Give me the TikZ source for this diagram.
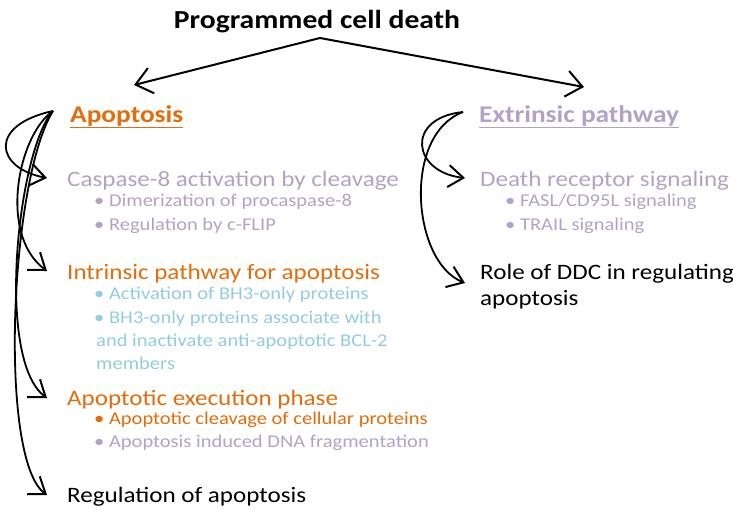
\documentclass[tikz,border=0pt]{standalone}
\usepackage{fontspec}
\setmainfont[FakeStretch=1.14]{Carlito}
\usetikzlibrary{arrows.meta}
\definecolor{aorange}{HTML}{E46C0A}
\definecolor{apurple}{HTML}{B3A2C7}
\definecolor{ablue}{HTML}{92CDDC}
\begin{document}
\begin{tikzpicture}[x=1pt,y=-1pt,
  arr/.style={line width=2pt,-{Straight Barb[length=16pt,width=26pt,line width=2pt]}},
  curv/.style={line width=1.8pt,-{Straight Barb[length=15pt,width=22pt,line width=2pt]}},
  txt/.style={anchor=base west,inner sep=0pt,font=\fontsize{22}{26}\selectfont},
  sub/.style={anchor=base west,inner sep=0pt,font=\fontsize{18}{22}\selectfont},
  head/.style={anchor=base west,inner sep=0pt,font=\fontsize{24}{28}\selectfont\bfseries}]
\useasboundingbox (0,0) rectangle (733,511);
\node[anchor=base,inner sep=0pt,font=\fontsize{26}{30}\selectfont\bfseries] (title) at (317,29) {Programmed cell death};
\coordinate (top) at (320,38);
\coordinate (la) at (134,85);
\coordinate (ra) at (584,87);
\draw[arr] (top) -- (la);
\draw[arr] (top) -- (ra);
% headings
\node[head,text=aorange] (apo) at (70,122) {\underline{Apoptosis}};
\node[head,text=apurple] (ext) at (479,122) {\underline{Extrinsic pathway}};
% left column
\node[txt,text=apurple] (casp) at (67,186) {Caspase-8 activation by cleavage};
\node[sub,text=apurple] (c1) at (94,206) {\textbullet\ Dimerization of procaspase-8};
\node[sub,text=apurple] (c2) at (94,230) {\textbullet\ Regulation by c-FLIP};
\node[txt,text=aorange] (intr) at (67,279) {Intrinsic pathway for apoptosis};
\node[sub,text=ablue] (i1) at (94,299) {\textbullet\ Activation of BH3-only proteins};
\node[sub,text=ablue] (i2) at (94,323) {\textbullet\ BH3-only proteins associate with};
\node[sub,text=ablue] (i3) at (96,346) {and inactivate anti-apoptotic BCL-2};
\node[sub,text=ablue] (i4) at (96,369) {members};
\node[txt,text=aorange] (exe) at (67,405) {Apoptotic execution phase};
\node[sub,text=aorange] (e1) at (94,424) {\textbullet\ Apoptotic cleavage of cellular proteins};
\node[sub,text=apurple] (e2) at (94,447) {\textbullet\ Apoptosis induced DNA fragmentation};
\node[txt] (reg) at (67,502) {Regulation of apoptosis};
% right column
\node[txt,text=apurple] (dr) at (480,186) {Death receptor signaling};
\node[sub,text=apurple] (d1) at (505,206) {\textbullet\ FASL/CD95L signaling};
\node[sub,text=apurple] (d2) at (505,230) {\textbullet\ TRAIL signaling};
\node[txt] (ddc) at (480,279) {Role of DDC in regulating};
\node[txt] (ddc2) at (480,305) {apoptosis};
% curved connectors
\coordinate (ls) at (53,111);
\coordinate (t1) at (47,178);
\coordinate (t2) at (47,271);
\coordinate (t3) at (47,398);
\coordinate (t4) at (47,495);
\draw[curv] (ls) .. controls (-12,125) and (-5,168) .. (t1);
\draw[curv] (ls) .. controls (18,135) and (-2,235) .. (t2);
\draw[curv] (ls) .. controls (18,150) and (-5,360) .. (t3);
\draw[curv] (ls) .. controls (10,180) and (-2,460) .. (t4);
\coordinate (rs) at (463,112);
\coordinate (r1) at (465,178);
\coordinate (r2) at (465,283);
\draw[curv] (rs) .. controls (405,118) and (412,172) .. (r1);
\draw[curv] (rs) .. controls (402,135) and (412,262) .. (r2);
\end{tikzpicture}
\end{document}
